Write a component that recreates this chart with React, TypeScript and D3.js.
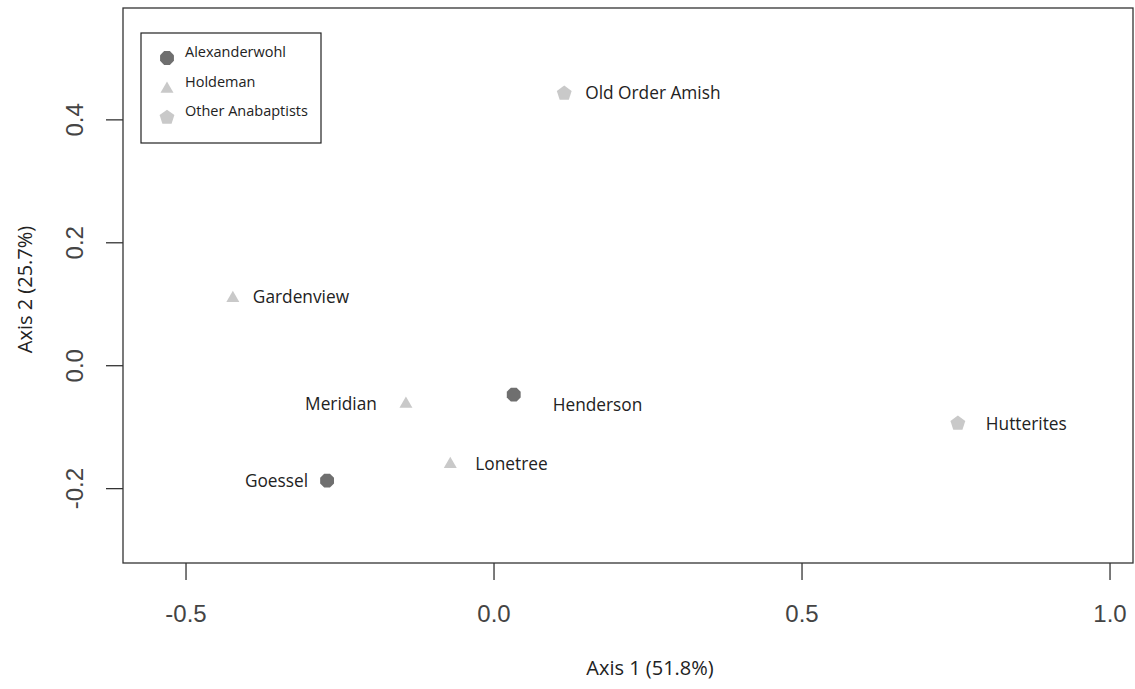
import React from 'react';
import * as d3 from 'd3';

const width = 1135;
const height = 689;
const box = { left: 123, right: 1133, top: 8, bottom: 563 };

const sites = ['Old Order Amish', 'Gardenview', 'Meridian', 'Henderson', 'Hutterites', 'Lonetree', 'Goessel'];
const axis1 = [0.114, -0.424, -0.143, 0.032, 0.753, -0.071, -0.271];
const axis2 = [0.444, 0.112, -0.06, -0.047, -0.093, -0.158, -0.187];
const groups = ['Other', 'Holdeman', 'Holdeman', 'Alexanderwohl', 'Other', 'Holdeman', 'Alexanderwohl'];

const legendNames = ['Alexanderwohl', 'Holdeman', 'Other Anabaptists'];
const legendGroups = ['Alexanderwohl', 'Holdeman', 'Other'];
const xTicks = [-0.5, 0.0, 0.5, 1.0];
const yTicks = [-0.2, 0.0, 0.2, 0.4];

// where each site label sits relative to its point (px)
const labelNudge: Record<string, [number, number, string]> = {
  'Old Order Amish': [21, 0, 'start'],
  'Gardenview': [20, 0, 'start'],
  'Meridian': [-29, 1, 'end'],
  'Henderson': [39, 10, 'start'],
  'Hutterites': [28, 1, 'start'],
  'Lonetree': [25, 1, 'start'],
  'Goessel': [-19, 0, 'end'],
};

const xScale = d3.scaleLinear().domain([-0.6023, 1.0373]).range([box.left, box.right]);
const yScale = d3.scaleLinear().domain([0.582, -0.321]).range([box.top, box.bottom]);

const dark = '#6f6f6f';
const light = '#c9c9c9';

function polygon(n: number, r: number, rot: number) {
  const pts: [number, number][] = [];
  for (let i = 0; i < n; i++) {
    const a = rot + (i * 2 * Math.PI) / n;
    pts.push([r * Math.cos(a), r * Math.sin(a)]);
  }
  return 'M' + pts.map(p => p.join(',')).join('L') + 'Z';
}

function Marker({ group, x, y }: { group: string; x: number; y: number }) {
  if (group === 'Alexanderwohl') {
    return <path d={polygon(8, 7.5, Math.PI / 8)} transform={`translate(${x},${y})`} fill={dark} />;
  }
  if (group === 'Holdeman') {
    return <path d={polygon(3, 7.5, -Math.PI / 2)} transform={`translate(${x},${y + 1.5})`} fill={light} />;
  }
  return <path d={polygon(5, 7.8, -Math.PI / 2)} transform={`translate(${x},${y + 0.5})`} fill={light} />;
}

export default function App() {
  const font = '"Open Sans", "DejaVu Sans", sans-serif';
  const tickFont = '"Liberation Sans", Arial, sans-serif';
  return (
    <svg width={width} height={height} viewBox={`0 0 ${width} ${height}`}
      style={{ position: 'absolute', left: 0, top: 0, background: '#fff' }}>
      <rect x={box.left} y={box.top} width={box.right - box.left} height={box.bottom - box.top}
        fill="none" stroke="#333" strokeWidth={1.3} />
      {xTicks.map(t => (
        <g key={t} transform={`translate(${xScale(t)},${box.bottom})`}>
          <line y1={0} y2={17} stroke="#333" strokeWidth={1.3} />
          <text y={59} textAnchor="middle" fontFamily={tickFont} fontSize={24} fill="#444">{t.toFixed(1)}</text>
        </g>
      ))}
      {yTicks.map(t => (
        <g key={t} transform={`translate(${box.left},${yScale(t)})`}>
          <line x1={0} x2={-17} stroke="#333" strokeWidth={1.3} />
          <text transform="translate(-49,0) rotate(-90)" y={9} textAnchor="middle"
            fontFamily={tickFont} fontSize={24} fill="#444">{t.toFixed(1)}</text>
        </g>
      ))}
      <text x={(box.left + box.right) / 2 + 22} y={675} textAnchor="middle" fontFamily={font}
        fontSize={20} fill="#222">Axis 1 (51.8%)</text>
      <text transform={`translate(32,${(box.top + box.bottom) / 2 + 4}) rotate(-90)`} textAnchor="middle"
        fontFamily={font} fontSize={20} fill="#222">Axis 2 (25.7%)</text>

      {sites.map((s, i) => {
        const x = xScale(axis1[i]);
        const y = yScale(axis2[i]);
        const [dx, dy, anchor] = labelNudge[s];
        return (
          <g key={s}>
            <Marker group={groups[i]} x={x} y={y} />
            <text x={x + dx} y={y + dy + 6.5} textAnchor={anchor} fontFamily={font} fontSize={17.3} fill="#222">{s}</text>
          </g>
        );
      })}

      <rect x={141} y={33} width={180} height={110} fill="#fff" stroke="#222" strokeWidth={1.2} />
      {legendNames.map((n, i) => (
        <g key={n} transform={`translate(0,${58 + i * 29.5})`}>
          <Marker group={legendGroups[i]} x={167} y={0} />
          <text x={185} y={-1} fontFamily={font} fontSize={14.5} fill="#222">{n}</text>
        </g>
      ))}
    </svg>
  );
}
